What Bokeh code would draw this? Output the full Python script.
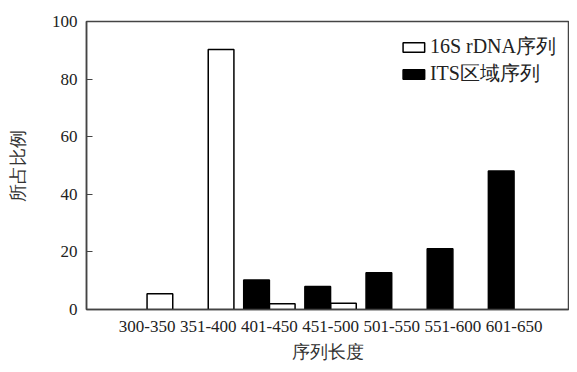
import numpy as np
from bokeh.plotting import figure
from bokeh.models import ColumnDataSource, Range1d, FixedTicker, Legend, LegendItem
from bokeh.embed import file_html
from bokeh.resources import INLINE

categories = ["300-350", "351-400", "401-450", "451-500", "501-550", "551-600", "601-650"]
rdna_16s = [5.5, 90.3, 2.0, 2.2, 0, 0, 0]
its = [0, 0, 10.2, 8.0, 12.8, 21.1, 48.1]
y_ticks = [0, 20, 40, 60, 80, 100]

FONT = "Liberation Serif"

idx = np.arange(len(categories))
s16 = ColumnDataSource(dict(x=[i + 0.21 for i, v in zip(idx, rdna_16s) if v > 0],
                            top=[v for v in rdna_16s if v > 0]))
sits = ColumnDataSource(dict(x=[i - 0.21 for i, v in zip(idx, its) if v > 0],
                             top=[v for v in its if v > 0]))

p = figure(width=569, height=364, output_backend="svg", toolbar_location=None,
           x_range=Range1d(-0.99, 6.89), y_range=Range1d(0, 100),
           min_border_left=86, min_border_right=1, min_border_top=21, min_border_bottom=54)

r1 = p.vbar(x="x", top="top", width=0.42, source=s16, fill_color="white",
            line_color="black", line_width=1.5)
r2 = p.vbar(x="x", top="top", width=0.42, source=sits, fill_color="black",
            line_color="black", line_width=1.5)

p.grid.visible = False
p.outline_line_color = "#444444"
p.outline_line_width = 1.5

p.xaxis.ticker = FixedTicker(ticks=list(idx))
p.xaxis.major_label_overrides = {int(i): c for i, c in zip(idx, categories)}
p.yaxis.ticker = FixedTicker(ticks=y_ticks)

for ax in (p.xaxis[0], p.yaxis[0]):
    ax.axis_line_color = "#444444"
    ax.axis_line_width = 1.5
    ax.major_label_text_font = FONT
    ax.major_label_text_font_size = "17px"
    ax.major_label_text_color = "#222222"
    ax.axis_label_text_font = FONT
    ax.axis_label_text_font_size = "18px"
    ax.axis_label_text_font_style = "normal"
    ax.axis_label_text_color = "#333333"
    ax.minor_tick_line_color = None

p.xaxis.major_tick_line_color = None
p.yaxis.major_tick_in = 6
p.yaxis.major_tick_out = 0
p.yaxis.major_tick_line_color = "#444444"
p.yaxis.major_tick_line_width = 1.2
p.yaxis.major_label_standoff = 9
p.xaxis.major_label_standoff = 5

p.xaxis.axis_label = "序列长度"
p.yaxis.axis_label = "所占比例"
p.yaxis.axis_label_standoff = 21
p.xaxis.axis_label_standoff = 7

legend = Legend(items=[LegendItem(label="16S rDNA序列", renderers=[r1]),
                       LegendItem(label="ITS区域序列", renderers=[r2])],
                location="top_right")
legend.label_text_font = FONT
legend.label_text_font_size = "20px"
legend.label_text_color = "#222222"
legend.glyph_width = 27
legend.glyph_height = 12
legend.spacing = -8
legend.padding = 4
legend.margin = 8
legend.label_standoff = 3
legend.label_height = 16
legend.border_line_alpha = 0
legend.background_fill_alpha = 0
p.add_layout(legend)

open("out.html", "w").write(file_html(p, INLINE))
